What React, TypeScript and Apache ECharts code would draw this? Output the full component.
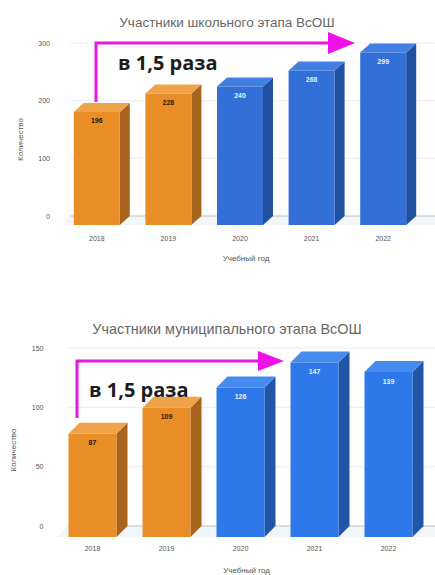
import React, { useEffect, useRef } from "react";
import * as echarts from "echarts";

const years = ["2018", "2019", "2020", "2021", "2022"];
const schoolValues = [196, 228, 240, 268, 299];
const municipalValues = [87, 109, 126, 147, 139];
const schoolTicks = [0, 100, 200, 300];
const municipalTicks = [0, 50, 100, 150];
const schoolTitle = "Участники школьного этапа ВсОШ";
const municipalTitle = "Участники муниципального этапа ВсОШ";
const yName = "Количество";
const xName = "Учебный год";
const note = "в 1,5 раза";
const orangeCount = 2;

const orange = { front: "#e98d27", top: "#f0a24a", side: "#a8641d", text: "#2b1500" };
const blueTop = { front: "#3270d8", top: "#4080e2", side: "#21509f", text: "#e8f0ff" };
const blueBottom = { front: "#2f78ea", top: "#468cf0", side: "#2055a8", text: "#e8f0ff" };

function barSeries(idx: number, values: number[], blue: any, w: number, dx: number, dy: number) {
  return {
    type: "custom",
    xAxisIndex: idx,
    yAxisIndex: idx,
    silent: true,
    z: 5,
    data: values.map((v, i) => [i, v]),
    renderItem: (params: any, api: any) => {
      const i = api.value(0);
      const v = api.value(1);
      const [cx, yTop0] = api.coord([i, v]);
      const [, yZero] = api.coord([i, 0]);
      const c = i < orangeCount ? orange : blue;
      const l = cx - w / 2;
      const r = cx + w / 2;
      const t = yTop0 + dy;
      const b = yZero + dy;
      return {
        type: "group",
        children: [
          { type: "polygon", shape: { points: [[r, t], [r + dx, t - dy], [r + dx, b - dy], [r, b]] }, style: { fill: c.side } },
          { type: "polygon", shape: { points: [[l, t], [l + dx, t - dy], [r + dx, t - dy], [r, t]] }, style: { fill: c.top } },
          { type: "rect", shape: { x: l, y: t, width: w, height: b - t }, style: { fill: c.front } },
          {
            type: "text",
            style: {
              text: String(v),
              x: cx,
              y: t + 9,
              align: "center",
              verticalAlign: "middle",
              fill: c.text,
              font: "bold 7px 'Liberation Sans'",
            },
          },
        ],
      };
    },
  };
}

function planeSeries(idx: number, ticks: number[], dx: number, dy: number, leftOfBack: number) {
  return {
    type: "custom",
    xAxisIndex: idx,
    yAxisIndex: idx,
    silent: true,
    z: 1,
    data: ticks.map((t) => [0, t]),
    renderItem: (params: any, api: any) => {
      const t = api.value(1);
      const [, y] = api.coord([0, t]);
      const children: any[] = [
        {
          type: "line",
          shape: { x1: leftOfBack, y1: y, x2: 435, y2: y },
          style: { stroke: t === 0 ? "#c9bdb2" : "#ececec", lineWidth: 1 },
        },
      ];
      if (t === 0) {
        children.unshift({
          type: "polygon",
          shape: { points: [[leftOfBack, y], [435, y], [435, y + dy], [leftOfBack - dx, y + dy]] },
          style: { fill: "#f1f6fb" },
        });
      }
      return { type: "group", children };
    },
  };
}

function arrow(x: number, y0: number, y1: number, x1: number, headLen: number, headH: number) {
  return [
    {
      type: "polyline",
      z: 20,
      shape: { points: [[x, y0], [x, y1], [x1 - headLen + 3, y1]] },
      style: { stroke: "#e818e0", lineWidth: 3, fill: "none" },
    },
    {
      type: "polygon",
      z: 21,
      shape: { points: [[x1 - headLen, y1 - headH], [x1, y1], [x1 - headLen, y1 + headH]] },
      style: { fill: "#f010e8" },
    },
  ];
}

function noteText(x: number, y: number) {
  return {
    type: "text",
    z: 22,
    x,
    y,
    style: {
      text: note,
      fill: "#1c1c1c",
      font: "bold 20px 'Open Sans'",
      verticalAlign: "middle",
    },
  };
}

const axisLabel = { color: "#555555", fontSize: 7, fontFamily: "Liberation Sans" };
const nameStyle = { color: "#555555", fontSize: 8, fontFamily: "Liberation Sans" };

export default function App() {
  const ref = useRef<HTMLDivElement>(null);
  useEffect(() => {
    const chart = echarts.init(ref.current!, undefined, { renderer: "svg" });
    const cat = (gridIndex: number, nameGap: number, shift: number) => ({
      type: "category",
      gridIndex,
      data: years,
      axisLine: { show: false },
      axisTick: { show: false },
      axisLabel: { ...axisLabel, margin: 19 },
      name: xName,
      nameLocation: "middle",
      nameGap,
      nameTextStyle: { ...nameStyle, padding: [0, 0, 0, shift] },
    });
    const val = (gridIndex: number, max: number, interval: number, margin: number, nameGap: number, shift: number) => ({
      type: "value",
      gridIndex,
      min: 0,
      max,
      interval,
      splitLine: { show: false },
      axisLine: { show: false },
      axisTick: { show: false },
      axisLabel: { ...axisLabel, margin },
      name: yName,
      nameLocation: "middle",
      nameGap,
      nameRotate: 90,
      nameTextStyle: { ...nameStyle, padding: [0, shift, 0, 0] },
    });
    chart.setOption({
      animation: false,
      backgroundColor: "#ffffff",
      title: [
        {
          text: schoolTitle,
          left: 222,
          top: 10,
          textAlign: "center",
          textStyle: { color: "#666666", fontSize: 13.5, fontWeight: "normal", fontFamily: "Liberation Sans" },
        },
        {
          text: municipalTitle,
          left: 222,
          top: 317,
          textAlign: "center",
          textStyle: { color: "#666666", fontSize: 14.4, fontWeight: "normal", fontFamily: "Liberation Sans" },
        },
      ],
      grid: [
        { left: 61, width: 358, top: 43, height: 173 },
        { left: 55.5, width: 370, top: 348, height: 179 },
      ],
      xAxis: [cat(0, 38, 12), cat(1, 40, 12)],
      yAxis: [val(0, 300, 100, 11, 37, 20), val(1, 150, 50, 12, 38, 26)],
      series: [
        planeSeries(0, schoolTicks, 9, 9, 70),
        barSeries(0, schoolValues, blueTop, 46, 10, 9),
        planeSeries(1, municipalTicks, 11, 11, 68),
        barSeries(1, municipalValues, blueBottom, 48, 11, 11),
      ],
      graphic: [
        ...arrow(96, 102, 43, 355, 27, 11),
        noteText(118, 62),
        ...arrow(77, 418, 361, 284, 26, 10),
        noteText(89, 389),
      ],
    });
    return () => chart.dispose();
  }, []);
  return <div ref={ref} style={{ position: "absolute", left: 0, top: 0, width: 435, height: 575 }} />;
}
